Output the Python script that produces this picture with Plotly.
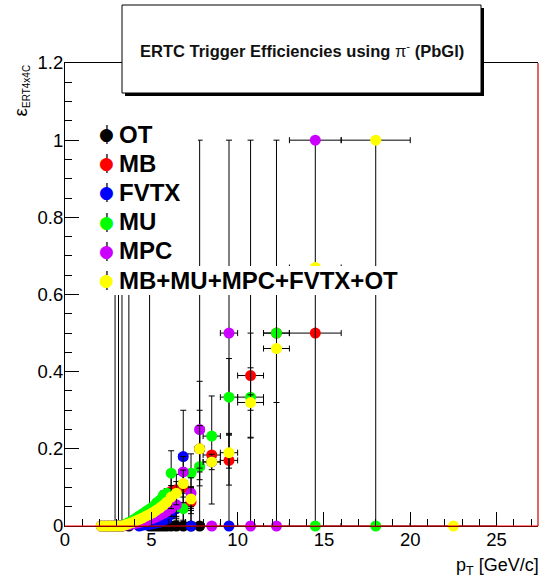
import plotly.graph_objects as go

# ---------------- data ----------------
pt = [2.1, 2.3, 2.5, 2.7, 2.9, 3.1, 3.3, 3.5, 3.7, 3.9, 4.1, 4.3, 4.5, 4.7, 4.9,
      5.1, 5.3, 5.5, 5.7, 5.9, 6.15, 6.45, 6.85, 7.3, 7.8, 8.5, 9.5, 10.75,
      12.25, 14.5, 18.0, 22.5]
pt_err = [0.1, 0.1, 0.1, 0.1, 0.1, 0.1, 0.1, 0.1, 0.1, 0.1, 0.1, 0.1, 0.1, 0.1,
          0.1, 0.1, 0.1, 0.1, 0.1, 0.1, 0.15, 0.15, 0.25, 0.2, 0.25, 0.5, 0.5,
          0.75, 0.75, 1.5, 2.0, 2.5]

N = None
ot_eff = [N, N, N, N, 0, 0, 0, N, 0, N, N, N, N, N, 0,
          0, 0, 0, 0, 0, 0, 0, 0, 0, 0, N, N, N, N, N, N, N]
ot_eh = [0, 0, 0, 0, 1, 1, 1, 0, 1, 0, 0, 0, 0, 0, 1,
         0.03, 0.03, 0.04, 0.04, 0.05, 0.05, 0.06, 0.06, 0.06, 1, 0, 0, 0, 0, 0, 0, 0]
ot_el = [0] * 32

mb_eff = [0, 0, 0, 0, 0, 0, 0, 0.004, 0.008, 0.013, 0.018, 0.024, 0.03, 0.035, 0.04,
          0.045, 0.05, 0.056, 0.062, 0.07, 0.09, 0.094, 0.1, 0.062, 0.2, 0.184, 0.17,
          0.39, 0.5, 0.5, N, N]
mb_eh = [0, 0, 0, 0, 0, 0, 0, 0.003, 0.003, 0.004, 0.004, 0.005, 0.005, 0.006, 0.006,
         0.008, 0.009, 0.01, 0.011, 0.012, 0.04, 0.04, 0.05, 0.04, 0.1, 0.153, 0.066,
         0.11, 0, 0, 0, 0]
mb_el = [0, 0, 0, 0, 0, 0, 0, 0.003, 0.003, 0.004, 0.004, 0.005, 0.005, 0.006, 0.006,
         0.008, 0.009, 0.01, 0.011, 0.012, 0.035, 0.035, 0.045, 0.03, 0.08, 0.127, 0.064,
         0.16, 0, 0, 0, 0]

fvtx_eff = [N, N, N, N, N, N, N, N, N, N, N, 0, 0.002, 0.003, 0.004,
            0.006, 0.008, 0.01, 0.015, 0.018, 0.03, 0.045, 0.18, 0, N, 0.166, 0,
            N, N, N, N, N]
fvtx_eh = [0, 0, 0, 0, 0, 0, 0, 0, 0, 0, 0, 0, 0.002, 0.002, 0.003,
           0.004, 0.005, 0.006, 0.008, 0.01, 0.02, 0.03, 0.12, 0.05, 0, 0, 1,
           0, 0, 0, 0, 0]
fvtx_el = [0, 0, 0, 0, 0, 0, 0, 0, 0, 0, 0, 0, 0.002, 0.002, 0.003,
           0.004, 0.005, 0.006, 0.008, 0.01, 0.02, 0.03, 0.12, 0, 0, 0, 0,
           0, 0, 0, 0, 0]

mu_eff = [0, 0, 0, 0, 0, 0, 0, 0.005, 0.009, 0.014, 0.02, 0.026, 0.032, 0.038, 0.044,
          0.05, 0.06, 0.067, 0.08, 0.085, 0.137, 0.05, 0.045, 0.137, 0.154, 0.233, 0.334,
          0.334, 0.5, 0, 0, N]
mu_eh = [0, 0, 0, 0, 0, 0, 0, 0.003, 0.003, 0.004, 0.004, 0.005, 0.005, 0.006, 0.006,
         0.008, 0.009, 0.01, 0.011, 0.012, 0.058, 0.04, 0.04, 0.05, 0.05, 0, 0.1,
         0.076, 0, 1, 1, 0]
mu_el = [0, 0, 0, 0, 0, 0, 0, 0.003, 0.003, 0.004, 0.004, 0.005, 0.005, 0.006, 0.006,
         0.008, 0.009, 0.01, 0.011, 0.012, 0.05, 0.03, 0.03, 0.04, 0.05, 0, 0.098,
         0.106, 0, 0, 0, 0]

mpc_eff = [0, 0, 0, 0, 0, 0, 0, 0.002, 0.003, 0.005, 0.007, 0.009, 0.011, 0.014, 0.017,
           0.02, 0.024, 0.028, 0.033, 0.038, 0.045, 0.055, 0.14, 0.085, 0.25, 0, 0.5,
           0, 0, 1.0, N, N]
mpc_eh = [0, 0, 0, 0, 0, 0, 0, 0.002, 0.002, 0.003, 0.003, 0.004, 0.004, 0.005, 0.005,
          0.006, 0.007, 0.008, 0.009, 0.01, 0.02, 0.03, 0.04, 0.04, 0.125, 0, 0,
          1, 1, 0, 0, 0]
mpc_el = [0, 0, 0, 0, 0, 0, 0, 0.002, 0.002, 0.003, 0.003, 0.004, 0.004, 0.005, 0.005,
          0.006, 0.007, 0.008, 0.009, 0.01, 0.02, 0.03, 0.04, 0.04, 0.1, 0, 0,
          0, 0, 0, 0, 0]

all_eff = [0, 0, 0, 0, 0, 0, 0, 0.003, 0.006, 0.009, 0.013, 0.017, 0.021, 0.026, 0.03,
           0.035, 0.041, 0.047, 0.054, 0.062, 0.075, 0.085, 0.11, 0.07, 0.2, 0.166, 0.19,
           0.32, 0.46, 0.67, 1.0, 0]
all_eh = [0, 0, 0, 0, 0, 0, 0, 0.002, 0.002, 0.003, 0.003, 0.004, 0.004, 0.005, 0.005,
          0.006, 0.007, 0.008, 0.009, 0.01, 0.03, 0.03, 0.035, 0.03, 0.06, 0.02, 0.05,
          0.02, 0, 0, 0, 0]
all_el = [0, 0, 0, 0, 0, 0, 0, 0.002, 0.002, 0.003, 0.003, 0.004, 0.004, 0.005, 0.005,
          0.006, 0.007, 0.008, 0.009, 0.01, 0.03, 0.03, 0.035, 0.03, 0.06, 0.02, 0.04,
          0.02, 0.14, 0, 0, 0]

series_names = ["OT", "MB", "FVTX", "MU", "MPC", "MB+MU+MPC+FVTX+OT"]
series_colors = ["#000000", "#ff0000", "#0000ff", "#00ff00", "#cc00ff", "#ffff00"]
series_eff = [ot_eff, mb_eff, fvtx_eff, mu_eff, mpc_eff, all_eff]
series_eh = [ot_eh, mb_eh, fvtx_eh, mu_eh, mpc_eh, all_eh]
series_el = [ot_el, mb_el, fvtx_el, mu_el, mpc_el, all_el]

x_range = [0, 27.4]
y_range = [0, 1.2]

# ---------------- figure ----------------
FONT = "Liberation Sans, Arial, Helvetica, sans-serif"
fig = go.Figure()
for name, col, yv, eh, el in zip(series_names, series_colors, series_eff,
                                 series_eh, series_el):
    fig.add_trace(go.Scatter(
        x=pt, y=yv, mode="markers", name=name, showlegend=False,
        marker=dict(symbol="circle", size=11, color=col, line=dict(width=0)),
        error_y=dict(type="data", symmetric=False, array=eh, arrayminus=el,
                     color="black", thickness=1, width=3),
        error_x=dict(type="data", array=pt_err, color="black", thickness=1,
                     width=3),
        cliponaxis=False,
    ))

W, H = 544, 579
L, R, T, B = 65, 6, 63, 53
pw, ph = W - L - R, H - T - B


def px(p):
    return (p - L) / pw


def py(q):
    return (H - B - q) / ph


shapes = [
    # red frame pieces (bottom y=0 line and right edge)
    dict(type="line", xref="paper", yref="paper", x0=0, x1=1, y0=0, y1=0,
         line=dict(color="#ff0000", width=1), layer="above"),
    dict(type="line", xref="paper", yref="paper", x0=1, x1=1, y0=0, y1=1,
         line=dict(color="#cc0000", width=1.2), layer="above"),
    # title box with shadow
    dict(type="rect", xref="paper", yref="paper", x0=px(125), x1=px(484),
         y0=py(96), y1=py(8), fillcolor="black", line=dict(width=0),
         layer="above"),
    dict(type="rect", xref="paper", yref="paper", x0=px(122), x1=px(481),
         y0=py(93), y1=py(5), fillcolor="white",
         line=dict(color="black", width=1), layer="above"),
]

annotations = [
    dict(text="<b>ERTC Trigger Efficiencies using </b>π<sup>-</sup><b> (PbGl)</b>",
         xref="paper", yref="paper", x=px(301.5), y=py(50),
         xanchor="center", yanchor="middle", showarrow=False,
         font=dict(family=FONT, size=16.5, color="#111111")),
    dict(text="ε<sub><span style=\"font-size:10px\">ERT4x4C</span></sub>",
         xref="paper", yref="paper",
         x=px(7), y=1.0, xanchor="left", yanchor="top", textangle=-90,
         showarrow=False, font=dict(family=FONT, size=19, color="black")),
    dict(text="p<sub>T</sub> [GeV/c]", xref="paper", yref="paper",
         x=px(541), y=py(553), xanchor="right", yanchor="top",
         showarrow=False, font=dict(family=FONT, size=18, color="black")),
    # legend white background boxes (annotations draw above the data)
    dict(text=" ", xref="paper", yref="paper", x=px(93), y=py(118),
         xanchor="left", yanchor="top", width=105, height=177,
         bgcolor="white", borderpad=0, borderwidth=0, showarrow=False),
    dict(text=" ", xref="paper", yref="paper", x=px(198), y=py(266),
         xanchor="left", yanchor="top", width=207, height=29,
         bgcolor="white", borderpad=0, borderwidth=0, showarrow=False),
]

# hand-built legend (ROOT TLegend style)
leg_x_marker = 106
leg_x_text = 117
leg_y0 = 134
leg_dy = 29.2
for i, (name, col) in enumerate(zip(series_names, series_colors)):
    yc = leg_y0 + i * leg_dy
    annotations.append(dict(
        text="┼", xref="paper", yref="paper", x=px(leg_x_marker), y=py(yc),
        xanchor="center", yanchor="middle", showarrow=False,
        font=dict(family="DejaVu Sans Mono", size=16, color="black")))
    annotations.append(dict(
        text="●", xref="paper", yref="paper", x=px(leg_x_marker), y=py(yc),
        xanchor="center", yanchor="middle", showarrow=False,
        font=dict(family="DejaVu Sans", size=17, color=col)))
    annotations.append(dict(
        text="<b>" + name + "</b>", xref="paper", yref="paper",
        x=px(leg_x_text), y=py(yc), xanchor="left", yanchor="middle",
        showarrow=False, font=dict(family=FONT, size=24, color="black")))

fig.update_layout(
    width=W, height=H,
    margin=dict(l=L, r=R, t=T, b=B, pad=0),
    paper_bgcolor="white", plot_bgcolor="white",
    font=dict(family=FONT, size=18, color="black"),
    showlegend=False,
    shapes=shapes,
    annotations=annotations,
    xaxis=dict(range=x_range, showgrid=False, zeroline=False,
               showline=True, linecolor="black", linewidth=1, mirror=True,
               ticks="inside", ticklen=14, tickcolor="black", dtick=5, tick0=0,
               ticklabelstandoff=-3,
               minor=dict(ticks="inside", ticklen=7, dtick=1, tick0=0,
                          tickcolor="black", showgrid=False),
               tickfont=dict(family=FONT, size=18.5, color="black")),
    yaxis=dict(range=y_range, showgrid=False, zeroline=False,
               showline=True, linecolor="black", linewidth=1, mirror=False,
               ticks="inside", ticklen=14, tickcolor="black", dtick=0.2, tick0=0,
               ticklabelstandoff=-3,
               minor=dict(ticks="inside", ticklen=7, dtick=0.05, tick0=0,
                          tickcolor="black", showgrid=False),
               tickfont=dict(family=FONT, size=18.5, color="black")),
)

fig.write_html("out.html")
